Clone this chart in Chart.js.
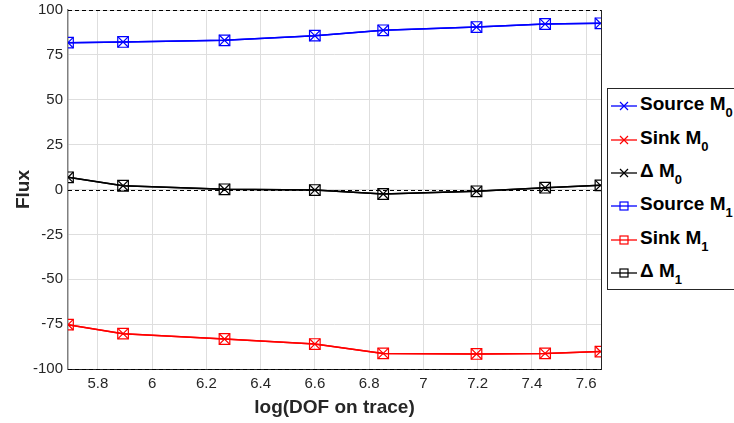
<!DOCTYPE html>
<html>
<head>
<meta charset="utf-8">
<script src="https://cdn.jsdelivr.net/npm/chart.js@4/dist/chart.umd.min.js"></script>
<style>
  html, body { margin: 0; padding: 0; background: #fff; }
  #wrap { position: relative; width: 734px; height: 423px; }
  #legend {
    position: absolute; left: 607px; top: 88px; width: 130px; height: 202px;
    border: 1px solid #262626; box-sizing: border-box; background: #fff;
    font-family: "Liberation Sans", Arial, sans-serif; font-weight: bold; font-size: 19px;
  }
  .item { position: absolute; left: 3px; height: 22px; display: flex; align-items: center; white-space: nowrap; }
  .item svg { margin-right: 1px; }
  .item sub { font-size: 13px; vertical-align: -7px; }
</style>
</head>
<body>
<div id="wrap">
  <canvas id="fluxChart" width="734" height="423"></canvas>
  <div id="legend"></div>
</div>
<script>
const dofLog = [5.69, 5.893, 6.267, 6.6, 6.852, 7.196, 7.449, 7.653];
const sourceM0 = [81.8, 82.2, 83.1, 85.7, 88.7, 90.5, 92.2, 92.6];
const sinkM0 = [-75.3, -80.3, -83.3, -86.1, -91.3, -91.6, -91.3, -90.3];
const deltaM0 = [6.8, 2.1, 0.1, -0.3, -2.5, -1.0, 1.0, 2.3];
const sourceM1 = [81.8, 82.2, 83.1, 85.7, 88.7, 90.5, 92.2, 92.6];
const sinkM1 = [-75.3, -80.3, -83.3, -86.1, -91.3, -91.6, -91.3, -90.3];
const deltaM1 = [6.8, 2.1, 0.1, -0.3, -2.5, -1.0, 1.0, 2.3];
const xTicks = [5.8, 6, 6.2, 6.4, 6.6, 6.8, 7, 7.2, 7.4, 7.6];
const yTicks = [100, 75, 50, 25, 0, -25, -50, -75, -100];
const refLines = [100, 0, -100];

const seriesNames = ['Source M', 'Sink M', '\u0394 M', 'Source M', 'Sink M', '\u0394 M'];
const seriesSubs = ['0', '0', '0', '1', '1', '1'];
const seriesColors = ['#0000ff', '#ff0000', '#000000', '#0000ff', '#ff0000', '#000000'];
const seriesMarkers = ['crossRot', 'crossRot', 'crossRot', 'rect', 'rect', 'rect'];
const seriesData = [sourceM0, sinkM0, deltaM0, sourceM1, sinkM1, deltaM1];

const FONT = "'Liberation Sans', Arial, sans-serif";
Chart.defaults.font.family = FONT;
Chart.defaults.color = '#262626';

const datasets = seriesData.map((vals, i) => ({
    label: seriesNames[i] + seriesSubs[i],
    data: vals.map((v, k) => ({ x: dofLog[k], y: v })),
    borderColor: seriesColors[i],
    backgroundColor: 'rgba(0,0,0,0)',
    borderWidth: 1.5,
    pointStyle: seriesMarkers[i],
    pointRadius: 7.5,
    pointBorderWidth: 1.2,
    pointBorderColor: seriesColors[i],
    tension: 0,
}));

const refLinePlugin = {
    id: 'refLines',
    beforeDatasetsDraw(chart) {
        const { ctx, chartArea, scales } = chart;
        ctx.save();
        ctx.strokeStyle = '#000';
        ctx.lineWidth = 1;
        ctx.setLineDash([4, 3]);
        refLines.forEach(v => {
            const y = Math.round(scales.y.getPixelForValue(v)) + 0.5;
            ctx.beginPath();
            ctx.moveTo(chartArea.left, y);
            ctx.lineTo(chartArea.right, y);
            ctx.stroke();
        });
        ctx.setLineDash([]);
        ctx.strokeStyle = '#262626';
        ctx.beginPath();
        ctx.moveTo(Math.round(chartArea.right) + 0.5, chartArea.top);
        ctx.lineTo(Math.round(chartArea.right) + 0.5, chartArea.bottom);
        ctx.stroke();
        ctx.restore();
    }
};

new Chart(document.getElementById('fluxChart').getContext('2d'), {
    type: 'line',
    data: { datasets },
    plugins: [refLinePlugin],
    options: {
        responsive: false,
        animation: false,
        layout: { padding: { top: 10, right: 133, left: 0, bottom: 0 } },
        plugins: { legend: { display: false }, tooltip: { enabled: false } },
        scales: {
            x: {
                type: 'linear',
                min: 5.69,
                max: 7.655,
                afterBuildTicks(scale) { scale.ticks = xTicks.map(v => ({ value: v })); },
                afterFit(scale) { scale.height = 54; scale.paddingLeft = 0; scale.paddingRight = 0; },
                grid: { color: '#dedede', lineWidth: 1, tickLength: 0 },
                border: { color: '#262626', width: 1 },
                ticks: { font: { size: 15 }, color: '#262626', padding: 6, callback: v => String(v) },
                title: { display: true, text: 'log(DOF on trace)', font: { size: 19, weight: 'bold' }, color: '#262626', padding: { top: 0 } },
            },
            y: {
                type: 'linear',
                min: -100,
                max: 100,
                afterBuildTicks(scale) { scale.ticks = yTicks.map(v => ({ value: v })); },
                afterFit(scale) { scale.width = 68; scale.paddingTop = 0; scale.paddingBottom = 0; },
                grid: { color: '#dedede', lineWidth: 1, tickLength: 0 },
                border: { color: '#808080', width: 1.5 },
                ticks: { font: { size: 15 }, color: '#262626', padding: 5 },
                title: { display: true, text: 'Flux', font: { size: 19, weight: 'bold' }, color: '#262626', padding: { top: 12, bottom: 4 } },
            },
        },
    },
});

// legend with real subscripts
const legendEl = document.getElementById('legend');
const rowTops = [6, 40, 73, 106, 140, 173];
seriesNames.forEach((name, i) => {
    const c = seriesColors[i];
    const marker = seriesMarkers[i] === 'rect'
        ? `<rect x="9" y="5" width="8" height="8" fill="none" stroke="${c}" stroke-width="1.2"/>`
        : `<path d="M9 5 L17 13 M17 5 L9 13" stroke="${c}" stroke-width="1.2"/>`;
    const row = document.createElement('div');
    row.className = 'item';
    row.style.top = rowTops[i] + 'px';
    row.innerHTML = `<svg width="28" height="18"><line x1="0" y1="9" x2="26" y2="9" stroke="${c}" stroke-width="1.3"/>${marker}</svg>` +
        `<span>${name}<sub>${seriesSubs[i]}</sub></span>`;
    legendEl.appendChild(row);
});
</script>
</body>
</html>
